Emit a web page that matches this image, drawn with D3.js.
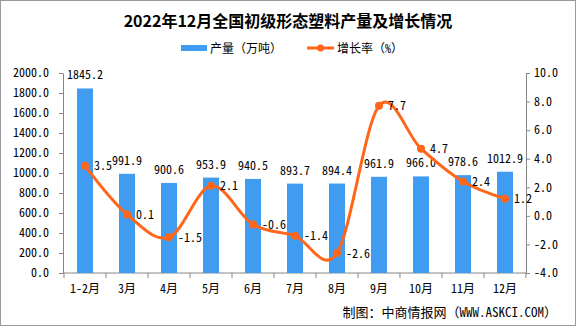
<!DOCTYPE html>
<html><head><meta charset="utf-8">
<script src="https://cdn.jsdelivr.net/npm/d3@7"></script>
<style>
body{margin:0;background:#fff}
svg{display:block}
text{font-family:"Noto Sans Mono CJK SC","Noto Sans CJK SC","DejaVu Sans",sans-serif}
</style></head>
<body><svg id="c" width="576" height="326"></svg>
<script>
const categories=["1-2月","3月","4月","5月","6月","7月","8月","9月","10月","11月","12月"];
const production=[1845.2,991.9,900.6,953.9,940.5,893.7,894.4,961.9,966.0,978.6,1012.9];
const growth=[3.5,0.1,-1.5,2.1,-0.6,-1.4,-2.6,7.7,4.7,2.4,1.2];
const leftTicks=[0,200,400,600,800,1000,1200,1400,1600,1800,2000];
const rightTicks=[-4,-2,0,2,4,6,8,10];
const title="2022年12月全国初级形态塑料产量及增长情况";
const legendNames=["产量（万吨）","增长率（%）"];
const source="制图：中商情报网（WWW.ASKCI.COM）";

const barColor="#3F9CF1", lineColor="#FF661A", axisColor="#868686";
const svg=d3.select("#c");
const W=576,H=326;
svg.append("rect").attr("x",0.5).attr("y",0.5).attr("width",W-1).attr("height",H-1)
  .attr("fill","#fff").attr("stroke","#9a9a9a");

const x=d3.scaleBand().domain(categories).range([64,526]).paddingInner(0.619).paddingOuter(0.31);
const yL=d3.scaleLinear().domain([0,2000]).range([273,73]);
const yR=d3.scaleLinear().domain([-4,10]).range([273,73]);
const cx=c=>x(c)+x.bandwidth()/2;

// title
svg.append("text").attr("x",288).attr("y",27).attr("text-anchor","middle")
  .attr("font-size",16).attr("font-weight","bold").style("font-family",'"Noto Sans CJK SC",sans-serif').text(title);

// legend
svg.append("rect").attr("x",181).attr("y",45).attr("width",26).attr("height",6).attr("fill",barColor);
svg.append("text").attr("x",210).attr("y",52.5).attr("font-size",12).text(legendNames[0]);
svg.append("line").attr("x1",307).attr("x2",334).attr("y1",48).attr("y2",48).attr("stroke",lineColor).attr("stroke-width",3);
svg.append("circle").attr("cx",320.5).attr("cy",48).attr("r",3.5).attr("fill",lineColor);
svg.append("text").attr("x",337).attr("y",52.5).attr("font-size",12).text(legendNames[1]);

// axes
const gL=svg.append("g").attr("transform","translate(63,0)")
  .call(d3.axisLeft(yL).tickValues(leftTicks).tickFormat(d3.format(".1f")).tickSize(4).tickSizeOuter(0).tickPadding(10));
const gR=svg.append("g").attr("transform","translate(526,0)")
  .call(d3.axisRight(yR).tickValues(rightTicks).tickFormat(d=>d3.format(".1f")(d).replace("−","-")).tickSize(4).tickSizeOuter(0).tickPadding(4));
[gL,gR].forEach(g=>{
  g.select(".domain").attr("stroke",axisColor);
  g.selectAll(".tick line").attr("stroke",axisColor);
  g.selectAll("text").attr("font-size",12).attr("fill","#000").style("font-family",'"Noto Sans Mono CJK SC","Noto Sans CJK SC",sans-serif');
});

// x axis
svg.append("line").attr("x1",63).attr("x2",526).attr("y1",273).attr("y2",273).attr("stroke",axisColor);
const bounds=d3.range(categories.length+1).map(i=>x.range()[0]+i*x.step());
svg.append("g").selectAll("line").data(bounds).join("line")
  .attr("x1",d=>d).attr("x2",d=>d).attr("y1",273).attr("y2",278).attr("stroke",axisColor);
svg.append("g").selectAll("text").data(categories).join("text")
  .attr("x",d=>cx(d)).attr("y",293).attr("text-anchor","middle").attr("font-size",12).text(d=>d);

// bars
svg.append("g").selectAll("rect").data(categories).join("rect")
  .attr("x",d=>x(d)).attr("width",x.bandwidth())
  .attr("y",(d,i)=>yL(production[i])).attr("height",(d,i)=>yL(0)-yL(production[i]))
  .attr("fill",barColor);
svg.append("g").selectAll("text").data(categories).join("text")
  .attr("x",d=>cx(d)).attr("y",(d,i)=>yL(production[i])-9).attr("text-anchor","middle")
  .attr("font-size",12).text((d,i)=>d3.format(".1f")(production[i]));

// line
const line=d3.line().x((d,i)=>cx(categories[i])).y(d=>yR(d)).curve(d3.curveCardinal.tension(0));
svg.append("path").datum(growth).attr("d",line).attr("fill","none")
  .attr("stroke",lineColor).attr("stroke-width",3);
svg.append("g").selectAll("circle").data(growth).join("circle")
  .attr("cx",(d,i)=>cx(categories[i])).attr("cy",d=>yR(d)).attr("r",4).attr("fill",lineColor);
svg.append("g").selectAll("text").data(growth).join("text")
  .attr("x",(d,i)=>cx(categories[i])+9).attr("y",d=>yR(d)+4.5)
  .attr("font-size",12).text(d=>d3.format(".1f")(d).replace("−","-"));

// source
svg.append("text").attr("x",557).attr("y",317).attr("text-anchor","end").attr("font-size",13).text(source);
</script></body></html>
